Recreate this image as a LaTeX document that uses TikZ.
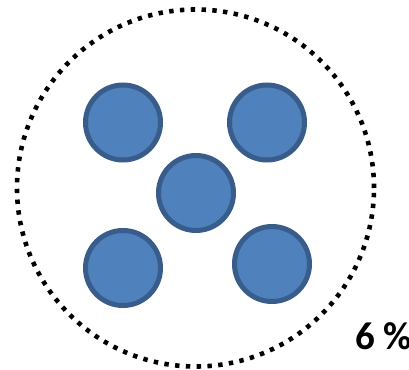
\documentclass[tikz,border=0pt]{standalone}
\usepackage{fontspec}
\setmainfont{Carlito}
\usepackage{tikz}
\usetikzlibrary{positioning}
\definecolor{ballfill}{HTML}{4F81BD}
\definecolor{balledge}{HTML}{385D8A}

\begin{document}
\begin{tikzpicture}[
    x=1pt, y=-1pt,
    ball/.style={circle, draw=balledge, fill=ballfill, line width=5pt, minimum size=75pt, inner sep=0pt},
    ring/.style={circle, draw=black, line width=4.6pt, dash pattern=on 4.4pt off 6.4pt, minimum size=357pt, inner sep=0pt},
    share/.style={anchor=west, font=\bfseries\fontsize{39}{42}\selectfont, inner sep=0pt}
  ]
    \useasboundingbox (0,0) rectangle (409,369);
    \node[ring] (cell) at (195.5,188) {};
    \node[ball] (tl) at (123,122.5) {};
    \node[ball] (tr) at (267,122.5) {};
    \node[ball] (mid) at (196,193) {};
    \node[ball] (bl) at (123,268) {};
    \node[ball] (br) at (272,264) {};
    \node[share] (pct) at (355,336) {6 \%};
  \end{tikzpicture}
\end{document}
